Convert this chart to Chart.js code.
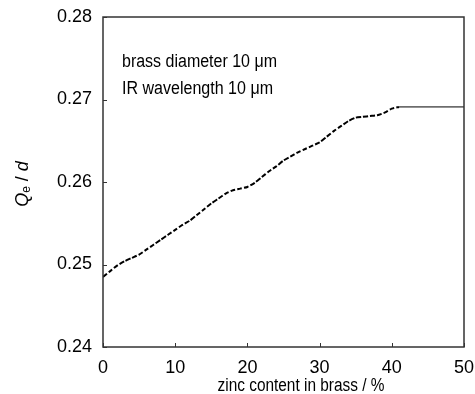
<!DOCTYPE html>
<html>
<head>
<meta charset="utf-8">
<script src="https://cdn.jsdelivr.net/npm/chart.js@4"></script>
<style>
  html, body { margin: 0; padding: 0; background: #fff; }
  #wrap { width: 475px; height: 394px; }
</style>
</head>
<body>
<div id="wrap"><canvas id="brassChart" width="475" height="394"></canvas></div>
<script>
// zinc content in brass (%) vs Qe / d

const zincContent = [
    0, 1, 2, 3, 4, 5, 6, 7, 8, 9, 10,
    11, 12, 13, 14, 15, 16, 17, 18, 19, 20,
    21, 22, 23, 24, 25, 26, 27, 28, 29, 30,
    31, 32, 33, 34, 35, 36, 37, 38, 39, 40, 41
];

const qeOverD = [
    0.2485, 0.2492, 0.2499, 0.2504, 0.2508, 0.2512, 0.2518, 0.2524, 0.2530, 0.2536, 0.2542,
    0.2548, 0.2553, 0.2560, 0.2567, 0.2574, 0.2580, 0.2586, 0.2590, 0.2592, 0.2594,
    0.2599, 0.2606, 0.2613, 0.2619, 0.2626, 0.2631, 0.2636, 0.2640, 0.2644, 0.2648,
    0.2655, 0.2662, 0.2668, 0.2674, 0.2678, 0.2679, 0.2680, 0.2681, 0.2684, 0.2689, 0.2691
];

// flat part past the solubility limit
const plateauZinc = [41, 50];
const plateauValue = [0.2691, 0.2691];

const xTicks = [0, 10, 20, 30, 40, 50];
const yTicks = [0.24, 0.25, 0.26, 0.27, 0.28];

const notes = ['brass diameter 10 \u03bcm', 'IR wavelength 10 \u03bcm'];
const xTitle = 'zinc content in brass / %';

const FONT = '"Liberation Sans", Arial, sans-serif';

// frame, inward ticks, notes and axis titles
const decorPlugin = {
    id: 'decor',
    afterDraw(chart) {
        const ctx = chart.ctx;
        const a = chart.chartArea;
        const xs = chart.scales.x;
        const ys = chart.scales.y;
        ctx.save();
        ctx.strokeStyle = '#333';
        ctx.lineWidth = 1.5;
        ctx.strokeRect(a.left, a.top, a.right - a.left, a.bottom - a.top);

        ctx.lineWidth = 1;
        ctx.beginPath();
        xTicks.forEach(v => {
            const px = Math.round(xs.getPixelForValue(v)) + 0.5;
            ctx.moveTo(px, a.bottom);
            ctx.lineTo(px, a.bottom - 4);
        });
        yTicks.forEach(v => {
            const py = Math.round(ys.getPixelForValue(v)) + 0.5;
            ctx.moveTo(a.left, py);
            ctx.lineTo(a.left + 4, py);
        });
        ctx.stroke();

        ctx.fillStyle = '#000';
        ctx.font = '18px ' + FONT;
        ctx.textBaseline = 'middle';
        ctx.textAlign = 'left';
        ctx.fillText(notes[0], 122, 62, 155);
        ctx.fillText(notes[1], 122, 89, 151);

        ctx.textAlign = 'center';
        ctx.fillText(xTitle, 301, 386, 167);

        // y title: Qe / d, rotated
        ctx.translate(23, 184);
        ctx.rotate(-Math.PI / 2);
        ctx.textAlign = 'left';
        const parts = [
            { t: 'Q', f: 'italic 18px ' + FONT, dy: 0 },
            { t: 'e', f: '12px ' + FONT, dy: 4 },
            { t: ' / ', f: '18px ' + FONT, dy: 0 },
            { t: 'd', f: 'italic 18px ' + FONT, dy: 0 }
        ];
        let w = 0;
        parts.forEach(p => { ctx.font = p.f; w += ctx.measureText(p.t).width; });
        let x = -w / 2;
        parts.forEach(p => {
            ctx.font = p.f;
            ctx.fillText(p.t, x, p.dy);
            x += ctx.measureText(p.t).width;
        });
        ctx.restore();
    }
};

const ctx = document.getElementById('brassChart');
new Chart(ctx, {
    type: 'line',
    data: {
        datasets: [
            {
                data: zincContent.map((z, i) => ({ x: z, y: qeOverD[i] })),
                borderColor: '#000',
                borderWidth: 2,
                borderDash: [5, 2],
                pointRadius: 0,
                tension: 0.2,
                fill: false
            },
            {
                data: plateauZinc.map((z, i) => ({ x: z, y: plateauValue[i] })),
                borderColor: '#000',
                borderWidth: 1,
                pointRadius: 0,
                fill: false
            }
        ]
    },
    options: {
        responsive: false,
        animation: false,
        layout: {
            padding: { top: 17, right: 11, left: 0, bottom: 0 }
        },
        scales: {
            x: {
                type: 'linear',
                min: 0,
                max: 50,
                afterBuildTicks: s => { s.ticks = xTicks.map(v => ({ value: v })); },
                afterFit: s => { s.height = 47; s.paddingLeft = 0; s.paddingRight = 0; },
                grid: { display: false, drawTicks: false },
                border: { display: false },
                ticks: {
                    padding: 10,
                    color: '#000',
                    font: { family: FONT, size: 18 }
                }
            },
            y: {
                type: 'linear',
                min: 0.24,
                max: 0.28,
                afterBuildTicks: s => { s.ticks = yTicks.map(v => ({ value: v })); },
                afterFit: s => { s.width = 103; s.paddingTop = 0; s.paddingBottom = 0; },
                grid: { display: false, drawTicks: false },
                border: { display: false },
                ticks: {
                    padding: 11,
                    color: '#000',
                    font: { family: FONT, size: 18 },
                    callback: v => v.toFixed(2)
                }
            }
        },
        plugins: {
            legend: { display: false },
            tooltip: { enabled: false }
        }
    },
    plugins: [decorPlugin]
});
</script>
</body>
</html>
